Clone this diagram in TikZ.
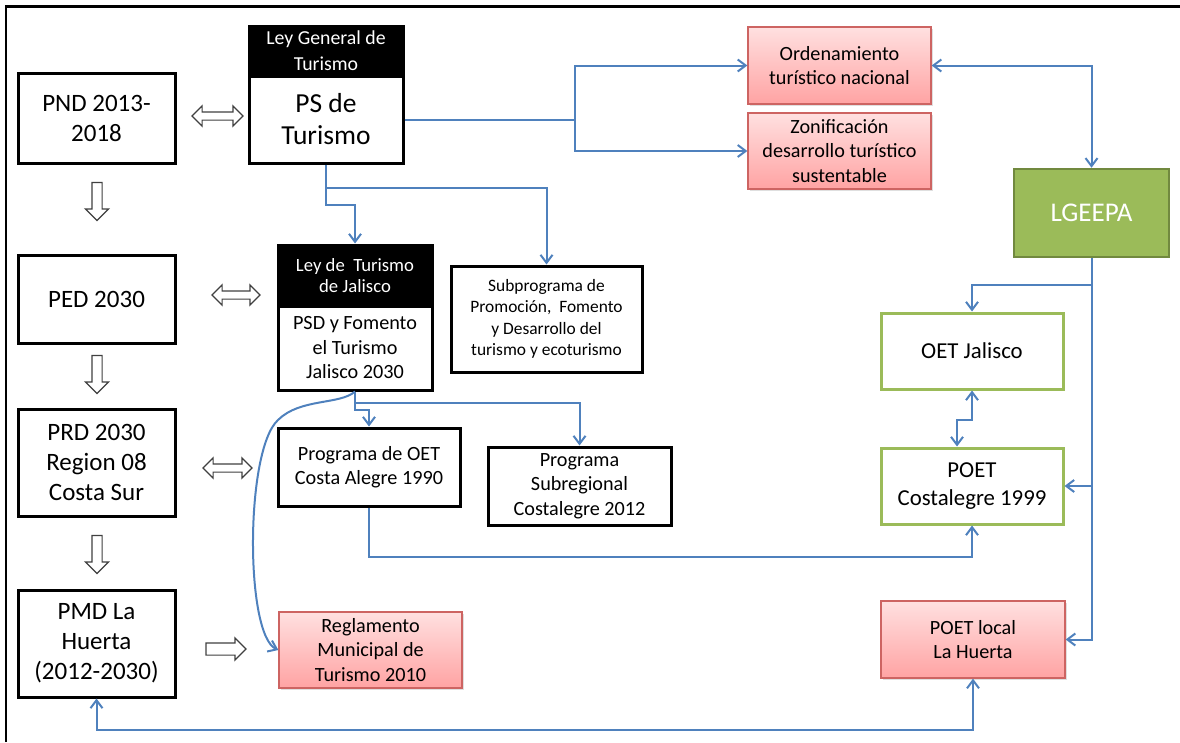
\documentclass[tikz,border=0pt]{standalone}
\usepackage{fontspec}
\setmainfont{Carlito}
\usetikzlibrary{shapes.arrows,arrows.meta,shadows}

\definecolor{linkblue}{RGB}{79,129,189}
\definecolor{pinktop}{RGB}{255,224,224}
\definecolor{pinkbot}{RGB}{255,163,163}
\definecolor{pinkline}{RGB}{205,100,98}
\definecolor{olive}{RGB}{155,187,89}
\definecolor{oliveline}{RGB}{113,137,63}
\definecolor{arrowgray}{RGB}{64,64,64}

\begin{document}
\begin{tikzpicture}
  [x=1pt,y=-1pt,>={Straight Barb[length=8pt,width=12pt]},
   every node/.style={align=center,inner sep=0pt},
   big/.style={font=\fontsize{25}{30}\selectfont},
   mid/.style={font=\fontsize{20.2}{24.5}\selectfont},
   small/.style={font=\fontsize{17.4}{21.5}\selectfont},
   plan/.style={draw=black,line width=3pt,fill=white,minimum width=157pt},
   header/.style={draw=black,line width=3pt,fill=black,text=white,minimum width=154pt},
   pinkbox/.style={draw=pinkline,line width=1.3pt,top color=pinktop,bottom color=pinkbot,
     minimum width=183pt,minimum height=76pt,mid,
     drop shadow={opacity=0.25,shadow xshift=1.5pt,shadow yshift=-2pt}},
   greenbox/.style={draw=olive,line width=3pt,fill=white,minimum width=182pt,
     minimum height=76pt,font=\fontsize{22.8}{28}\selectfont},
   lgbox/.style={draw=oliveline,line width=2.5pt,fill=olive,text=white,
     minimum width=155pt,minimum height=88pt,font=\fontsize{27}{30}\selectfont},
   hollow/.style={draw=arrowgray,fill=white,line width=1.2pt},
   link/.style={draw=linkblue,line width=2pt}]
  \useasboundingbox (0,0) rectangle (1180,742);
  \draw[line width=2.5pt] (6,742) -- (6,4.5);
  \draw[line width=3pt] (4.75,6) -- (1180,6);

  % development plans
  \node[plan,big,minimum height=90pt] (pnd) at (96.5,118) {PND 2013-\\2018};
  \node[plan,big,minimum height=88pt] (ped) at (96.5,299) {PED 2030};
  \node[plan,big,minimum height=107pt] (prd) at (96.5,462.5) {PRD 2030\\Region 08\\Costa Sur};
  \node[plan,big,minimum height=107pt] (pmd) at (96.5,643.5) {PMD La\\Huerta\\(2012-2030)};

  % sector programs
  \node[plan,minimum width=154pt,minimum height=87pt,font=\fontsize{27.5}{32}\selectfont] (pst) at (326,119.5) {PS de\\Turismo};
  \node[header,minimum height=50pt,font=\fontsize{19.8}{26}\selectfont] (lgt) at (326,51) {Ley General de\\Turismo};
  \node[plan,mid,minimum width=154pt,minimum height=84pt] (psd) at (355,348) {PSD y Fomento\\el Turismo\\Jalisco 2030};
  \node[header,minimum height=61pt,font=\fontsize{18.7}{21.5}\selectfont] (ltj) at (355,275.5) {Ley de\ \ Turismo\\de Jalisco};
  \node[plan,small,minimum width=191pt,minimum height=106pt] (sub) at (546.5,319) {Subprograma de\\Promoción,\ \ Fomento\\y Desarrollo del\\turismo y ecoturismo};
  \node[plan,mid,minimum width=182pt,minimum height=78pt] (poc) at (369,467) {Programa de OET\\Costa Alegre 1990};
  \node[plan,mid,minimum width=183pt,minimum height=78pt] (psr) at (579.5,486) {Programa\\Subregional\\Costalegre 2012};
  \node[pinkbox] (reg) at (370.5,650) {Reglamento\\Municipal de\\Turismo 2010};

  % ordering
  \node[pinkbox,minimum height=77pt] (ord) at (839.5,65.5) {Ordenamiento\\turístico nacional};
  \node[pinkbox] (zon) at (839.5,151) {Zonificación\\desarrollo turístico\\sustentable};
  \node[lgbox] (lge) at (1091.5,213) {LGEEPA};
  \node[greenbox] (oetj) at (972,351) {OET Jalisco};
  \node[greenbox] (poetc) at (972,486) {POET\\Costalegre 1999};
  \node[pinkbox,minimum width=184pt,minimum height=77pt] (poetl) at (973,639.5) {POET local\\La Huerta};

  % block arrows
  \foreach \name/\x/\y/\len in {h1/217.5/116/51,h2/236/295/48,h3/227.5/468/49}
    \node[hollow,double arrow,inner sep=3.5pt,minimum width=19pt,
      double arrow head extend=6pt,minimum height=\len pt] (\name) at (\x,\y) {};
  \foreach \name/\y in {v1/199,v2/372,v3/552}
    \node[hollow,single arrow,shape border rotate=270,inner sep=4.5pt,minimum width=22pt,
      single arrow head extend=6.5pt,minimum height=38pt] (\name) at (97,\y) {};
  \node[hollow,single arrow,inner sep=5.5pt,minimum width=21pt,
    single arrow head extend=5pt,minimum height=40pt] (r1) at (223,649) {};

  % connectors
  \coordinate (j1) at (575,119.5);
  \draw[link] (pst.east) -- (j1);
  \foreach \to in {ord,zon}
    \draw[link,->] (j1) |- (\to.west);
  \draw[link,<->] (ord.east) -| (lge.north);

  \draw[link,->] (pst.south) -- ++(0,40) -| (ltj.north);
  \coordinate (j2) at (326,188);
  \draw[link,->] (j2) -| (sub.north);

  \draw[link,->] (psd.south) -- ++(0,18) -| (poc.north);
  \coordinate (j3) at (355,403);
  \draw[link,->] (j3) -| (psr.north);
  \draw[link,->] (psd.south) .. controls (340,405) and (300,398) .. (278,420)
    .. controls (245,450) and (245,635) .. (reg.west);

  \draw[link,->] (poc.south) -- ++(0,49) -| (poetc.south);

  \draw[link,->] (lge.south) |- (poetl.east);
  \coordinate (j4) at (1091.5,285);
  \draw[link,->] (j4) -| (oetj.north);
  \coordinate (j5) at (1091.5,486);
  \draw[link,->] (j5) -- (poetc.east);
  \draw[link,<->] (oetj.south) -- ++(0,29) -| ([xshift=-15pt]poetc.north);

  \draw[link,<->] (pmd.south) -- ++(0,31) -| (poetl.south);

\end{tikzpicture}
\end{document}
